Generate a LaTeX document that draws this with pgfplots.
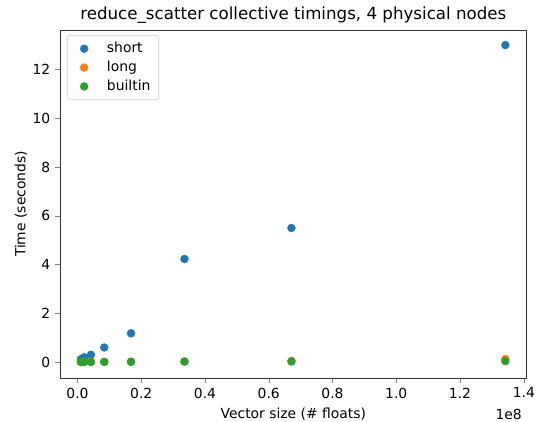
\documentclass[border=0pt]{standalone}
\usepackage{pgfplots}
\pgfplotsset{compat=1.18}
\usepackage{fontspec}
\setmainfont{DejaVu Sans}
\definecolor{mplblue}{HTML}{1F77B4}
\definecolor{mplorange}{HTML}{FF7F0E}
\definecolor{mplgreen}{HTML}{2CA02C}
\begin{document}
\begin{tikzpicture}[x=1pt,y=1pt]
\begin{axis}[
    at={(0,0)}, anchor=south west,
    scale only axis,
    width=336pt, height=250.6pt,
    xmin=-5.5e6, xmax=140.9e6,
    ymin=-0.65, ymax=13.62,
    xtick={0,20000000,40000000,60000000,80000000,100000000,120000000,140000000},
    xticklabels={0.0,0.2,0.4,0.6,0.8,1.0,1.2,1.4},
    scaled x ticks=false,
    ytick={0,2,4,6,8,10,12},
    /pgf/number format/assume math mode=true,
    tick label style={font=\fontsize{10}{12}\selectfont},
    label style={font=\fontsize{10}{12}\selectfont},
    tick align=outside,
    tick pos=left,
    major tick length=3.5pt,
    axis line style={black!80},
    xlabel={Vector size (\# floats)},
    ylabel={Time (seconds)},
    ylabel style={yshift=-3pt},
    title={reduce\_scatter collective timings, 4 physical nodes},
    title style={font=\fontsize{12}{14}\selectfont, yshift=-5pt},
    legend cell align=left,
    legend style={font=\fontsize{10}{12}\selectfont, draw=black!20, rounded corners=2pt,
                  at={(0.015,0.985)}, anchor=north west, row sep=0.5pt,
                  inner xsep=4pt, inner ysep=3pt},
    every axis plot/.append style={only marks, mark=*, mark size=2.8pt,
        legend image code/.code={
            \draw[##1] plot coordinates {(0.28cm,0cm)};
            \path (0cm,0cm) (0.78cm,0cm);}},
    clip=false,
]
\addplot[mplblue] coordinates {
    (1048576, 0.12) (2097152, 0.20) (4194304, 0.30) (8388608, 0.60)
    (16777216, 1.18) (33554432, 4.23) (67108864, 5.50) (134217728, 13.00)
};
\addlegendentry{short}
\addplot[mplorange] coordinates {
    (1048576, 0.01) (2097152, 0.01) (4194304, 0.012) (8388608, 0.015)
    (16777216, 0.02) (33554432, 0.03) (67108864, 0.05) (134217728, 0.13)
};
\addlegendentry{long}
\addplot[mplgreen] coordinates {
    (1048576, 0.005) (2097152, 0.005) (4194304, 0.006) (8388608, 0.008)
    (16777216, 0.012) (33554432, 0.02) (67108864, 0.025) (134217728, 0.04)
};
\addlegendentry{builtin}
\node[font=\fontsize{10}{12}\selectfont, anchor=north east] at (rel axis cs:1.0,-0.075) {1e8};
\end{axis}
\pgfresetboundingbox
\path[use as bounding box] (-43.2,-31.68) rectangle (343.44,272.16);
\end{tikzpicture}
\end{document}
